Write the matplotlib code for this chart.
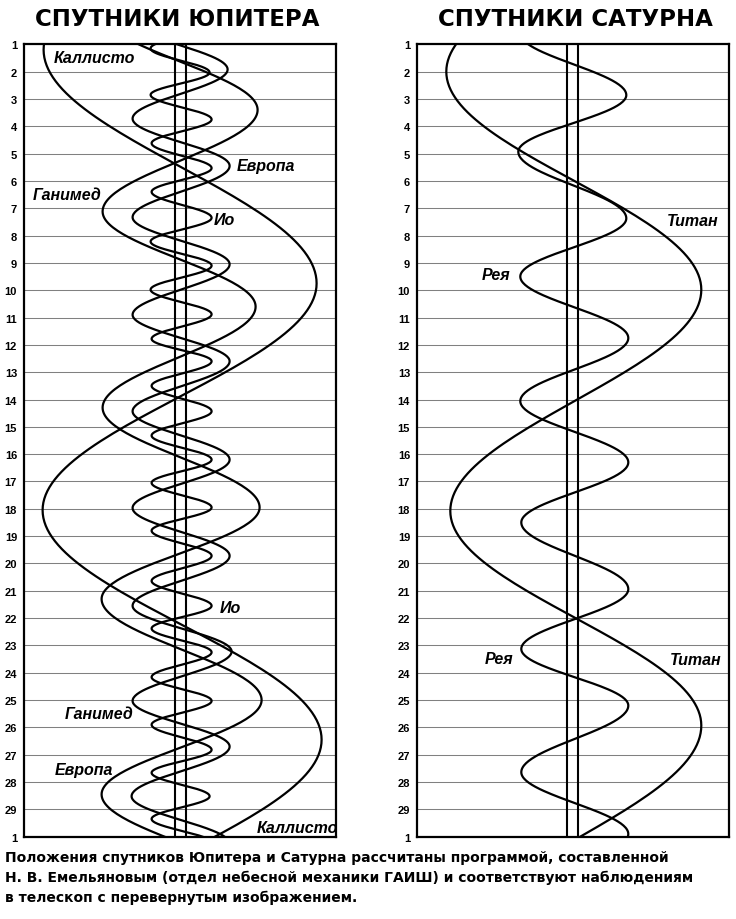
import numpy as np
import matplotlib.pyplot as plt

plt.rcParams['font.family'] = ['Liberation Sans', 'DejaVu Sans']

# day rows: 1..29 and then 1 of the next month at the bottom
days = list(range(1, 31))
day_labels = [str(d) for d in range(1, 30)] + ['1']

# turning points: day of the extremum and offset from the planet
io_days = [0.27, 1.15, 2.03, 2.85, 3.75, 4.62, 5.53, 6.4, 7.35, 8.22, 9.1, 9.98, 10.88, 11.78,
           12.6, 13.5, 14.43, 15.32, 16.2, 17.05, 17.95, 18.8, 19.72, 20.64, 21.55, 22.38,
           23.25, 24.16, 25.03, 25.9, 26.82, 27.66, 28.52, 29.35, 30.22]
io_x = [31, -30, 29, -30, 31, -29, 31, -29, 31, -30, 31, -30, 31, -29, 31, -29, 31, -29,
        31, -29, 31, -29, 31, -29, 31, -29, 31, -29, 31, -29, 31, -29, 29, -29, 31]

europa_days = [0.15, 1.92, 3.72, 5.45, 7.33, 9.05, 10.9, 12.6, 14.43, 16.2, 17.97, 19.72,
               21.55, 23.22, 25.03, 26.7, 28.52, 30.25]
europa_x = [-48, 47, -48, 49, -48, 49, -48, 49, -48, 49, -48, 49, -48, 51, -48, 49, -49, 49]

ganymede_days = [-0.15, 3.4, 7.12, 10.6, 14.3, 17.95, 21.3, 25.0, 28.45, 32.0]
ganymede_x = [-79, 77, -78, 75, -78, 79, -79, 81, -79, 78]

callisto_days = [-7.1, 1.2, 9.75, 18.05, 26.45, 34.8]
callisto_x = [136, -137, 136, -138, 141, -137]

rhea_days = [0.6, 2.86, 4.93, 7.37, 9.5, 11.75, 14.06, 16.3, 18.5, 20.94, 23.13, 25.2,
             27.64, 29.9, 32.2]
rhea_x = [-52, 54, -54, 54, -52, 56, -52, 56, -51, 56, -51, 56, -51, 56, -52]

titan_days = [-6.0, 2.0, 9.98, 18.08, 25.93, 34.3]
titan_x = [129, -126, 129, -122, 129, -124]


def swing(tp_days, tp_x, n=60):
    # half-cosine between neighbouring turning points
    t, x = [], []
    for d0, d1, x0, x1 in zip(tp_days[:-1], tp_days[1:], tp_x[:-1], tp_x[1:]):
        s = np.linspace(0, 1, n)
        t.extend(d0 + (d1 - d0) * s)
        x.extend(x0 + (x1 - x0) * (1 - np.cos(np.pi * s)) / 2)
    return np.array(x), np.array(t)


fig = plt.figure(figsize=(7.36, 9.2), dpi=100)
axj = fig.add_axes([24 / 736, 82.3 / 920, 312 / 736, 792.4 / 920])
axs = fig.add_axes([417 / 736, 82.3 / 920, 312 / 736, 792.4 / 920])


def panel(ax, xlim, planet_half):
    ax.set_xlim(*xlim)
    ax.set_ylim(30, 1)
    ax.set_xticks([])
    ax.set_yticks(days)
    ax.set_yticklabels(day_labels, fontsize=8, fontweight='bold')
    ax.tick_params(axis='y', length=0, pad=5)
    for d in days[1:-1]:
        ax.axhline(d, color='0.5', lw=0.75, zorder=1)
    for s in ax.spines.values():
        s.set_linewidth(1.6)
    ax.axvline(-planet_half, color='black', lw=1.5, zorder=2)
    ax.axvline(planet_half, color='black', lw=1.5, zorder=2)


panel(axj, (-156.6, 155.4), 5.2)
panel(axs, (-155.3, 156.7), 5.6)

for tp_d, tp_x in [(io_days, io_x), (europa_days, europa_x),
                   (ganymede_days, ganymede_x), (callisto_days, callisto_x)]:
    x, t = swing(tp_d, tp_x)
    axj.plot(x, t, color='black', lw=1.6, zorder=3)

for tp_d, tp_x in [(rhea_days, rhea_x), (titan_days, titan_x)]:
    x, t = swing(tp_d, tp_x)
    axs.plot(x, t, color='black', lw=1.6, zorder=3)

lab = dict(fontsize=11.5, fontweight='bold', style='italic', ha='left', va='center', zorder=4)
axj.text(-127, 1.49, 'Каллисто', **lab)
axj.text(56, 5.44, 'Европа', **lab)
axj.text(-147.6, 6.5, 'Ганимед', **lab)
axj.text(32.7, 7.43, 'Ио', **lab)
axj.text(39.4, 21.6, 'Ио', **lab)
axj.text(-115.6, 25.48, 'Ганимед', **lab)
axj.text(-125.6, 27.53, 'Европа', **lab)
axj.text(76, 29.66, 'Каллисто', **lab)
axs.text(94.4, 7.46, 'Титан', **lab)
axs.text(-90.6, 9.41, 'Рея', **lab)
axs.text(-87.3, 23.47, 'Рея', **lab)
axs.text(97.7, 23.5, 'Титан', **lab)

fig.text(177.5 / 736, 1 - 19 / 920, 'СПУТНИКИ ЮПИТЕРА', fontsize=16.5, fontweight='heavy',
         family='DejaVu Sans', ha='center', va='center')
fig.text(575 / 736, 1 - 19 / 920, 'СПУТНИКИ САТУРНА', fontsize=16.5, fontweight='heavy',
         family='DejaVu Sans', ha='center', va='center')

cap = ['Положения спутников Юпитера и Сатурна рассчитаны программой, составленной',
       'Н. В. Емельяновым (отдел небесной механики ГАИШ) и соответствуют наблюдениям',
       'в телескоп с перевернутым изображением.']
for line, y in zip(cap, [858, 878, 898]):
    fig.text(5 / 736, 1 - y / 920, line, fontsize=10, fontweight='bold',
             family='DejaVu Sans', ha='left', va='center')

fig.savefig('out.png', dpi=100)
